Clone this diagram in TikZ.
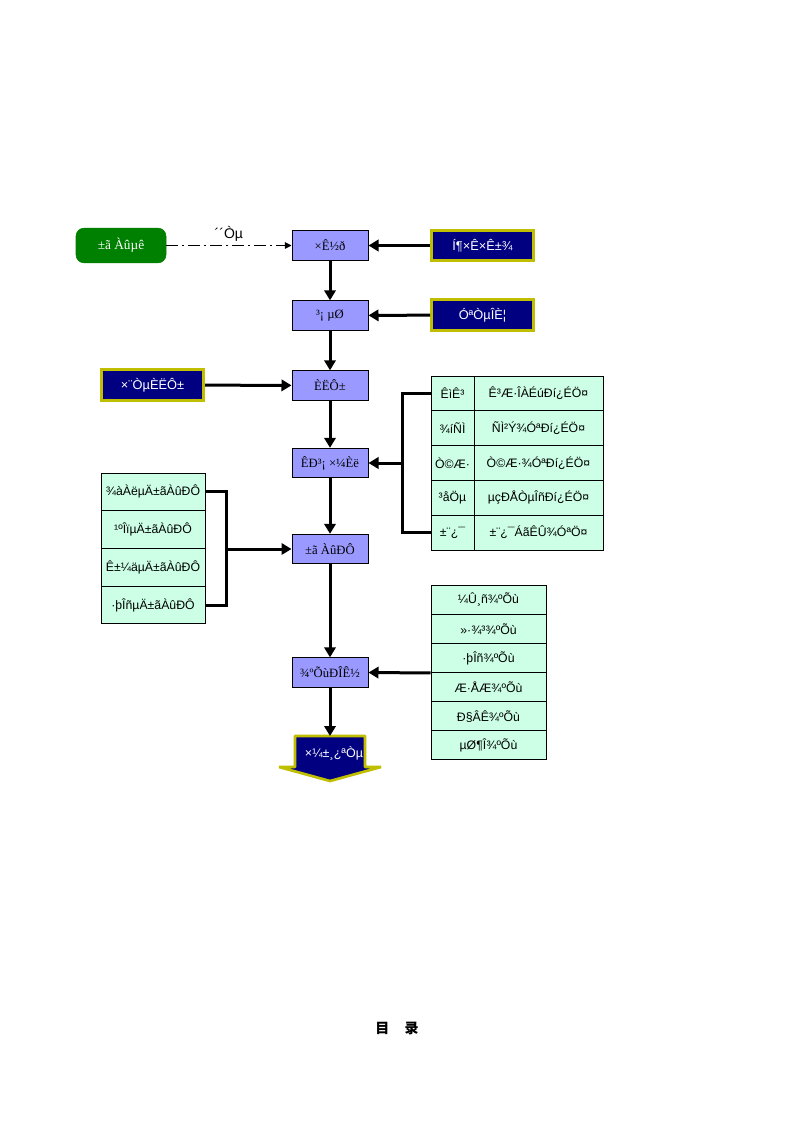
\documentclass[tikz,border=0pt]{standalone}
\usepackage{fontspec}
\setmainfont{Liberation Serif}
\setsansfont{Liberation Sans}
\newfontfamily\cjk{Noto Sans CJK SC}
\usetikzlibrary{arrows.meta}
\definecolor{lav}{RGB}{153,153,255}
\definecolor{mint}{RGB}{204,255,230}
\definecolor{navyc}{RGB}{0,0,128}
\definecolor{greenc}{RGB}{0,128,0}
\definecolor{olivey}{RGB}{191,191,0}
\begin{document}
\begin{tikzpicture}[x=0.75pt,y=-0.75pt,
 lavbox/.style={draw=black,line width=0.75pt,fill=lav,minimum width=57pt,minimum height=22pt,inner sep=0pt,font=\fontsize{9.5}{10}\selectfont},
 navybox/.style={draw=olivey,line width=2.25pt,fill=navyc,text=white,minimum width=76.5pt,minimum height=23pt,inner sep=0pt,font=\sffamily\fontsize{9.6}{10}\selectfont},
 cell/.style={draw=black,line width=0.75pt,fill=mint,inner sep=0pt,font=\sffamily\fontsize{9.2}{10}\selectfont},
 rcellA/.style={cell,minimum width=32.25pt,minimum height=26.1pt},
 rcellB/.style={cell,minimum width=96.75pt,minimum height=26.1pt},
 lcell/.style={cell,minimum width=78pt,minimum height=28.3pt},
 tcell/.style={cell,minimum width=86.25pt,minimum height=21.875pt},
 flow/.style={line width=2.25pt,-{Triangle[length=7.5pt,width=8.5pt]}},
 bracket/.style={line width=2.25pt},
]
\useasboundingbox (0,0) rectangle (794,1123);
\fill[white] (0,0) rectangle (794,1123);

% sources
\node[draw=greenc,fill=greenc,rounded corners=6pt,minimum width=67.5pt,minimum height=26pt,inner sep=0pt,text=white,font=\fontsize{10}{11}\selectfont] (shop) at (121,245.5) {±ã Àûµê};
\node[navybox] (invest) at (482.5,245.5) {Í¶×Ê×Ê±¾};
\node[navybox] (venue) at (482.5,315) {ÓªÒµÎÈ¦};
\node[navybox] (staff) at (152.5,385) {×¨ÒµÈËÔ±};

% main chain
\node[lavbox] (fund) at (330,245.5) {×Ê½ð};
\node[lavbox] (site) at (330,315.5) {³¡ µØ};
\node[lavbox] (people) at (330,385.5) {ÈËÔ±};
\node[lavbox] (market) at (330,463) {ÊÐ³¡ ×¼Èë};
\node[lavbox] (conv) at (330,549) {±ã ÀûÐÔ};
\node[lavbox] (comp) at (330,672.5) {¾ºÕùÐÎÊ½};

% right licence table
\node[rcellA] (r1a) at (452.5,393.4) {ÊìÊ³};
\node[rcellB] (r1b) at (538.5,393.4) {Ê³Æ·ÎÀÉúÐí¿ÉÖ¤};
\node[rcellA] (r2a) at (452.5,428.2) {¾íÑÌ};
\node[rcellB] (r2b) at (538.5,428.2) {ÑÌ²Ý¾ÓªÐí¿ÉÖ¤};
\node[rcellA] (r3a) at (452.5,463) {Ò©Æ·};
\node[rcellB] (r3b) at (538.5,463) {Ò©Æ·¾ÓªÐí¿ÉÖ¤};
\node[rcellA] (r4a) at (452.5,497.8) {³åÖµ};
\node[rcellB] (r4b) at (538.5,497.8) {µçÐÅÒµÎñÐí¿ÉÖ¤};
\node[rcellA] (r5a) at (452.5,532.6) {±¨¿¯};
\node[rcellB] (r5b) at (538.5,532.6) {±¨¿¯ÁãÊÛ¾ÓªÖ¤};

% left convenience table
\node[lcell] (l1) at (153,491.9) {¾àÀëµÄ±ãÀûÐÔ};
\node[lcell] (l2) at (153,529.6) {¹ºÎïµÄ±ãÀûÐÔ};
\node[lcell] (l3) at (153,567.4) {Ê±¼äµÄ±ãÀûÐÔ};
\node[lcell] (l4) at (153,605.1) {·þÎñµÄ±ãÀûÐÔ};

% competition table
\node[tcell] (t1) at (488.5,599.6) {¼Û¸ñ¾ºÕù};
\node[tcell] (t2) at (488.5,628.75) {»·¾³¾ºÕù};
\node[tcell] (t3) at (488.5,657.9) {·þÎñ¾ºÕù};
\node[tcell] (t4) at (488.5,687.1) {Æ·ÅÆ¾ºÕù};
\node[tcell] (t5) at (488.5,716.25) {Ð§ÂÊ¾ºÕù};
\node[tcell] (t6) at (488.5,745.4) {µØ¶Î¾ºÕù};

% bottom arrow shape
\coordinate (rtop) at (330,736);
\filldraw[fill=navyc,draw=olivey,line width=2pt,line join=bevel]
  (295,736) -- (365,736) -- (365,767) -- (381,767) -- (330,781) -- (279,767) -- (295,767) -- cycle;
\node[text=white,font=\sffamily\fontsize{9.4}{10}\selectfont,inner sep=0pt] (ready) at (334,753) {×¼±¸¿ªÒµ};

% connectors
\draw[line width=0.75pt,dash pattern=on 9pt off 3pt on 1.5pt off 3pt,-{Triangle[length=5pt,width=5pt]}] (shop) -- node[above=2pt,font=\sffamily\fontsize{10.5}{11}\selectfont,inner sep=1pt] {´´Òµ} (fund);
\draw[flow] (invest) -- (fund);
\draw[flow] (venue) -- (site);
\draw[flow] (staff) -- (people);
\draw[flow] (fund) -- (site);
\draw[flow] (site) -- (people);
\draw[flow] (people) -- (market);
\draw[flow] (market) -- (conv);
\draw[flow] (conv) -- (comp);
\draw[flow] (comp) -- (rtop);

\coordinate (rb) at (402,463);
\draw[bracket] (r1a.west) -| (rb) |- (r5a.west);
\draw[flow] (rb) -- (market);

\coordinate (lb) at (226,549);
\draw[bracket] (l1.east) -| (lb) |- (l4.east);
\draw[flow] (lb) -- (conv);

\draw[flow] (t3.south west) -- (comp.east);

% footer
\node[font=\cjk\bfseries\fontsize{10.5}{12}\selectfont] (toc) at (397,1028) {目\hspace{1.1em}录};
\end{tikzpicture}
\end{document}
